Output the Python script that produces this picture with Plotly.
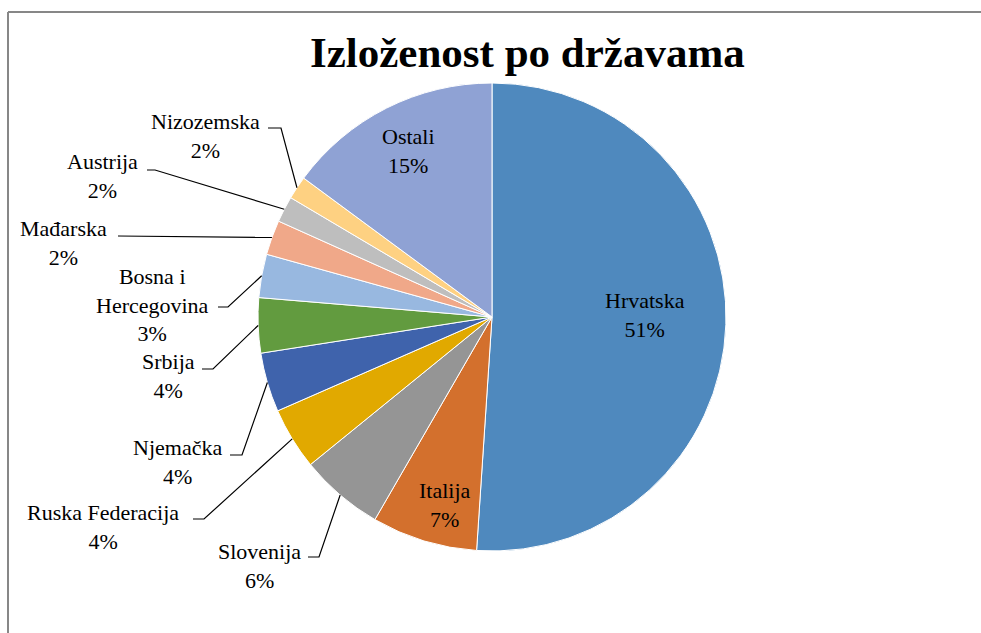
import math
import plotly.graph_objects as go

# ---- data ----
countries = ["Hrvatska", "Italija", "Slovenija", "Ruska Federacija", "Njemačka",
             "Srbija", "Bosna i<br>Hercegovina", "Mađarska", "Austrija", "Nizozemska", "Ostali"]
shares = [51.1, 7.3, 5.8, 4.3, 4.1, 3.8, 3.0, 2.4, 1.8, 1.6, 14.9]
colors = ["#4F89BE", "#D3702D", "#959595", "#E1A900", "#3F63AC", "#629B3F",
          "#98B8E0", "#F0A889", "#BEBEBE", "#FED182", "#8FA2D4"]

W, H = 981, 633
CX, CY, R = 492, 317, 234


def px(x):
    return x / W


def py(y):
    return 1 - y / H


fig = go.Figure(go.Pie(
    labels=countries, values=shares, sort=False, direction="clockwise", rotation=0,
    marker=dict(colors=colors, line=dict(color="white", width=1)),
    textinfo="none", hoverinfo="label+percent", showlegend=False,
    domain=dict(x=[px(CX - R), px(CX + R)], y=[py(CY + R), py(CY - R)]),
))

total = sum(shares)
cum = 0.0
mid_angles = []
for v in shares:
    mid_angles.append((cum + v / 2) / total * 360)
    cum += v

# label block centres (x, y) and leader-stub (x_start, x_end, y); None = inside label
label_pos = [(645, 315), (445, 505), (259, 566), (103, 527), (177, 462), (168, 376),
             (152, 305), (63, 243), (102, 176), (205, 136), (408, 151)]
stubs = [None, None, (308, 319, 557), (193, 204, 519), (230, 242, 455), (202, 213, 369),
         (218, 228, 307), (118, 118, 236), (147, 155, 170), (268, 281, 128), None]

font = dict(family="Liberation Serif, Times New Roman, serif", size=22, color="black")
annotations = []
shapes = []
for name, v, (lx, ly), stub, ang in zip(countries, shares, label_pos, stubs, mid_angles):
    pct = round(v / total * 100)
    annotations.append(dict(x=px(lx), y=py(ly), xref="paper", yref="paper",
                            text=f"{name}<br>{pct}%", showarrow=False, font=font,
                            xanchor="center", yanchor="middle", align="center"))
    if stub is not None:
        a = math.radians(ang)
        ex, ey = CX + R * math.sin(a), CY - R * math.cos(a)
        x0, x1, sy = stub
        path = f"M {px(x0)} {py(sy)} L {px(x1)} {py(sy)} L {px(ex)} {py(ey)}"
        shapes.append(dict(type="path", path=path, xref="paper", yref="paper",
                           line=dict(color="black", width=1.2)))

annotations.append(dict(x=px(527), y=py(52), xref="paper", yref="paper",
                        text="<b>Izloženost po državama</b>", showarrow=False,
                        font=dict(family="Liberation Serif, Times New Roman, serif",
                                  size=43, color="black"),
                        xanchor="center", yanchor="middle"))

# chart border (top and left visible)
shapes.append(dict(type="line", xref="paper", yref="paper", x0=px(8), y0=py(12),
                   x1=1.01, y1=py(12), line=dict(color="#878787", width=2)))
shapes.append(dict(type="line", xref="paper", yref="paper", x0=px(8), y0=py(12),
                   x1=px(8), y1=-0.01, line=dict(color="#878787", width=2)))

fig.update_layout(width=W, height=H, margin=dict(l=0, r=0, t=0, b=0),
                  paper_bgcolor="white", plot_bgcolor="white",
                  annotations=annotations, shapes=shapes)

fig.write_html("out.html", config={"displayModeBar": False},
               post_script="document.body.style.margin='0';document.body.style.overflow='hidden';")
